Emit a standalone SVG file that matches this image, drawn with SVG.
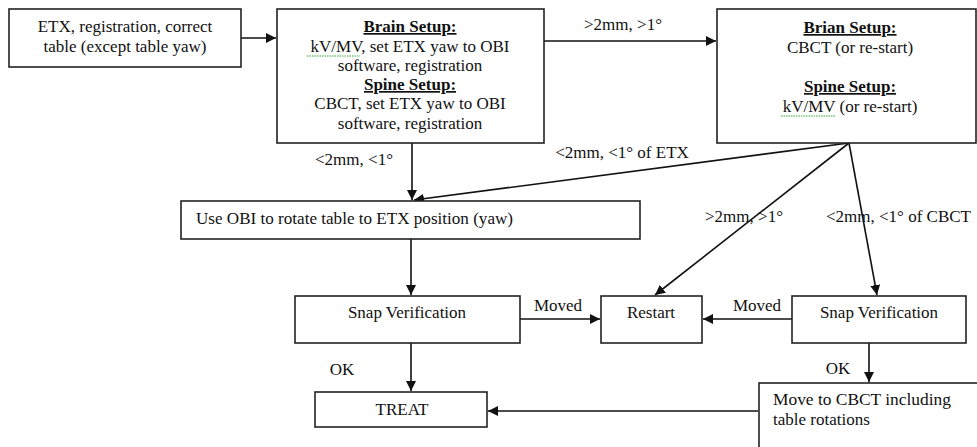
<svg xmlns="http://www.w3.org/2000/svg" width="977" height="447" viewBox="0 0 977 447">
<style>
.box{fill:#fff;stroke:#222;stroke-width:1.6}
.t{font-family:"Liberation Serif","DejaVu Serif","Times New Roman",serif;font-size:17px;fill:#111}
.c{text-anchor:middle}
.h{font-weight:bold;text-decoration:underline}
.ln{stroke:#111;stroke-width:1.6;fill:none}
.sq{stroke:#3a3;stroke-width:1;fill:none;stroke-dasharray:1.5 1}
</style>
<defs>
<marker id="ah" viewBox="0 0 10 10" refX="10" refY="5" markerWidth="10" markerHeight="10" markerUnits="userSpaceOnUse" orient="auto">
<path d="M0,0 L10,5 L0,10 z" fill="#111"/>
</marker>
</defs>
<rect width="977" height="447" fill="#fff"/>
<g id="connectors">
<line class="ln" x1="241" y1="38" x2="276" y2="38" marker-end="url(#ah)"/>
<line class="ln" x1="544" y1="41" x2="716" y2="41" marker-end="url(#ah)"/>
<line class="ln" x1="412" y1="143" x2="412" y2="200" marker-end="url(#ah)"/>
<line class="ln" x1="849" y1="143" x2="414" y2="200" marker-end="url(#ah)"/>
<line class="ln" x1="849" y1="143" x2="655" y2="295" marker-end="url(#ah)"/>
<line class="ln" x1="849" y1="143" x2="877" y2="295" marker-end="url(#ah)"/>
<line class="ln" x1="411" y1="239" x2="411" y2="295" marker-end="url(#ah)"/>
<line class="ln" x1="520" y1="319" x2="600" y2="319" marker-end="url(#ah)"/>
<line class="ln" x1="792" y1="319" x2="703" y2="319" marker-end="url(#ah)"/>
<line class="ln" x1="411" y1="343" x2="411" y2="391" marker-end="url(#ah)"/>
<line class="ln" x1="869" y1="343" x2="869" y2="382" marker-end="url(#ah)"/>
<line class="ln" x1="758" y1="411" x2="488" y2="411" marker-end="url(#ah)"/>
<text class="t c" x="623" y="30">&gt;2mm, &gt;1°</text>
<text class="t c" x="354" y="165">&lt;2mm, &lt;1°</text>
<text class="t c" x="622" y="158">&lt;2mm, &lt;1° of ETX</text>
<text class="t c" x="744" y="222">&gt;2mm, &gt;1°</text>
<text class="t" x="826" y="222">&lt;2mm, &lt;1° of CBCT</text>
<text class="t c" x="558" y="311">Moved</text>
<text class="t c" x="757" y="311">Moved</text>
<text class="t c" x="342" y="375">OK</text>
<text class="t c" x="838" y="374">OK</text>
</g>
<g id="n1">
<rect class="box" x="9" y="9" width="232" height="58"/>
<text class="t c" x="125" y="32">ETX, registration, correct</text>
<text class="t c" x="125" y="52">table (except table yaw)</text>
</g>
<g id="n2">
<rect class="box" x="277" y="9" width="267" height="134"/>
<text class="t c h" x="410" y="32">Brain Setup:</text>
<text class="t c" x="410" y="52">kV/MV, set ETX yaw to OBI</text>
<path class="sq" d="M307,56 h53"/>
<text class="t c" x="410" y="71">software, registration</text>
<text class="t c h" x="410" y="90">Spine Setup:</text>
<text class="t c" x="410" y="109">CBCT, set ETX yaw to OBI</text>
<text class="t c" x="410" y="129">software, registration</text>
</g>
<g id="n3">
<rect class="box" x="717" y="9" width="259" height="134"/>
<text class="t c h" x="850" y="33">Brian Setup:</text>
<text class="t c" x="850" y="53">CBCT (or re-start)</text>
<text class="t c h" x="850" y="92">Spine Setup:</text>
<text class="t c" x="850" y="112">kV/MV (or re-start)</text>
<path class="sq" d="M781,116 h54"/>
</g>
<g id="n4">
<rect class="box" x="181" y="201" width="459" height="38"/>
<text class="t" x="196" y="224" textLength="317" lengthAdjust="spacingAndGlyphs">Use OBI to rotate table to ETX position (yaw)</text>
</g>
<g id="n5">
<rect class="box" x="295" y="296" width="225" height="47"/>
<text class="t c" x="407" y="318">Snap Verification</text>
</g>
<g id="n6">
<rect class="box" x="601" y="296" width="101" height="47"/>
<text class="t c" x="651" y="318">Restart</text>
</g>
<g id="n7">
<rect class="box" x="792" y="296" width="174" height="47"/>
<text class="t c" x="879" y="318">Snap Verification</text>
</g>
<g id="n8">
<rect class="box" x="759" y="383" width="240" height="80"/>
<text class="t" x="773" y="405" textLength="178" lengthAdjust="spacingAndGlyphs">Move to CBCT including</text>
<text class="t" x="773" y="425">table rotations</text>
</g>
<g id="n9">
<rect class="box" x="315" y="392" width="172" height="35"/>
<text class="t c" x="402" y="415">TREAT</text>
</g>
</svg>
